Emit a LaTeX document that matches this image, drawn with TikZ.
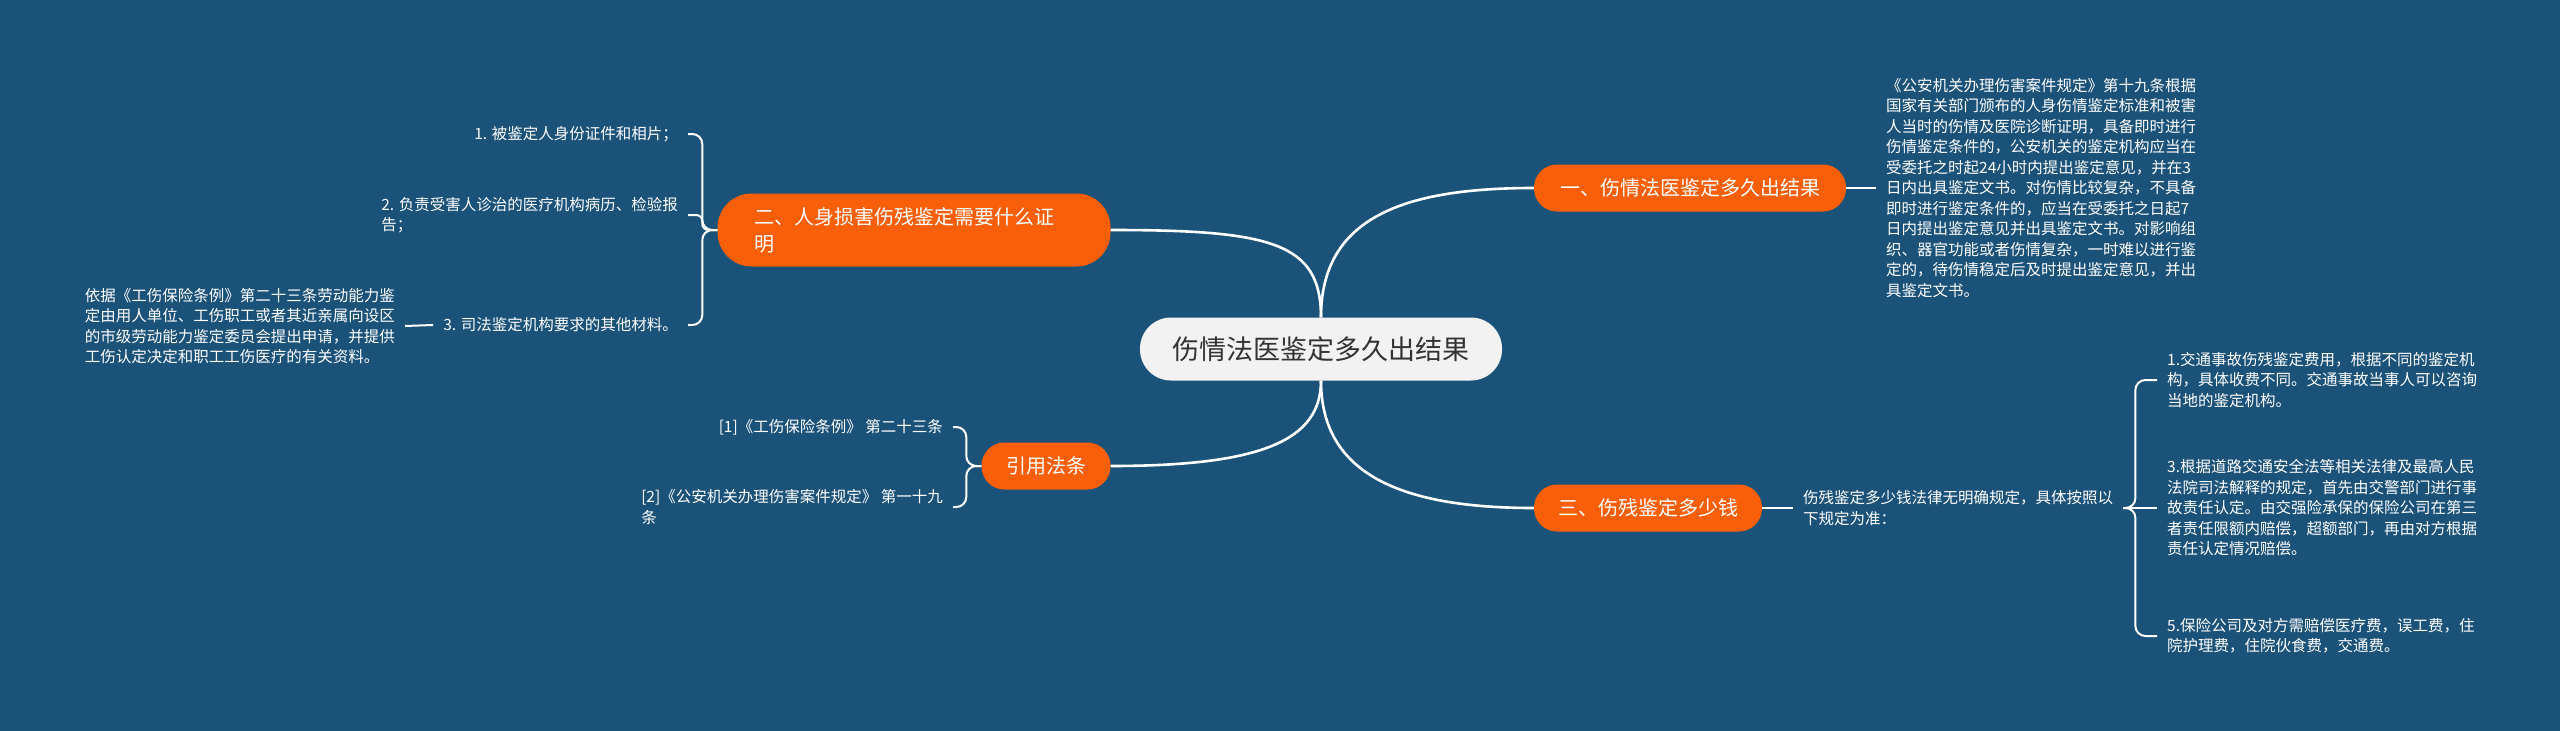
\documentclass[tikz,border=0pt]{standalone}
\usepackage{fontspec}
\setmainfont{Noto Sans CJK SC}
\usetikzlibrary{calc}

\definecolor{bgblue}{HTML}{1B5279}
\definecolor{topicorange}{HTML}{F95E08}
\definecolor{rootfill}{HTML}{F2F2F2}
\definecolor{roottext}{HTML}{333333}

\begin{document}
\begin{tikzpicture}[
    x=1pt, y=-1pt,
    root/.style   = {fill=rootfill, text=roottext, font=\fontsize{27}{32}\selectfont,
                     minimum width=362pt, minimum height=63pt, rounded corners=31pt},
    topic/.style  = {fill=topicorange, text=white, font=\fontsize{20}{27}\selectfont,
                     minimum height=47pt, rounded corners=23pt},
    leaf/.style   = {text=white, font=\fontsize{15.5}{20.5}\selectfont, align=left,
                     inner xsep=10pt, inner ysep=2pt},
    branch/.style = {draw=white, line width=2.6pt},
    twig/.style   = {draw=white, line width=2pt, rounded corners=10pt}
  ]

  \useasboundingbox[fill=bgblue] (0,0) rectangle (2560,731);

  % --- root and main topics ---
  \node[root] (C) at (1321,349) {伤情法医鉴定多久出结果};
  \node[topic, minimum width=312pt] (A) at (1690,188) {一、伤情法医鉴定多久出结果};
  \node[topic, minimum width=393pt, minimum height=73pt, rounded corners=34pt,
        text width=320pt, align=left]
       (B) at (914,230) {二、人身损害伤残鉴定需要什么证\\明};
  \node[topic, minimum width=129pt] (Cite) at (1046,466) {引用法条};
  \node[topic, minimum width=228pt] (D) at (1648,508) {三、伤残鉴定多少钱};

  % --- root to topics ---
  \draw[branch] (C.north) .. controls +(0,-100) and +(-130,0) .. (A.west);
  \draw[branch] (C.north) .. controls +(0,-75) and +(160,0) .. (B.east);
  \draw[branch] (C.south) .. controls +(0,60) and +(150,0) .. (Cite.east);
  \draw[branch] (C.south) .. controls +(0,95) and +(-130,0) .. (D.west);

  % --- topic one ---
  \node[leaf, anchor=west] (A1) at (1876,188)
       {《公安机关办理伤害案件规定》第十九条根据\\国家有关部门颁布的人身伤情鉴定标准和被害\\人当时的伤情及医院诊断证明，具备即时进行\\伤情鉴定条件的，公安机关的鉴定机构应当在\\受委托之时起24小时内提出鉴定意见，并在3\\日内出具鉴定文书。对伤情比较复杂，不具备\\即时进行鉴定条件的，应当在受委托之日起7\\日内提出鉴定意见并出具鉴定文书。对影响组\\织、器官功能或者伤情复杂，一时难以进行鉴\\定的，待伤情稳定后及时提出鉴定意见，并出\\具鉴定文书。};
  \draw[twig] (A.east) -- (A1.west);

  % --- topic two ---
  \node[leaf, anchor=east] (B1) at (688,134) {1. 被鉴定人身份证件和相片；};
  \node[leaf, anchor=east] (B2) at (688,215) {2. 负责受害人诊治的医疗机构病历、检验报\\告；};
  \node[leaf, anchor=east] (B3) at (688,325) {3. 司法鉴定机构要求的其他材料。};
  \node[leaf, anchor=east] (B3a) at (405,326)
       {依据《工伤保险条例》第二十三条劳动能力鉴\\定由用人单位、工伤职工或者其近亲属向设区\\的市级劳动能力鉴定委员会提出申请，并提供\\工伤认定决定和职工工伤医疗的有关资料。};
  \coordinate (Bj) at ($(B.west)+(-15,0)$);
  \draw[twig] (B.west) -- (Bj) |- (B1.east);
  \draw[twig, rounded corners=6pt] (B.west) -- (Bj) |- (B2.east);
  \draw[twig] (B.west) -- (Bj) |- (B3.east);
  \draw[twig] (B3.west) -- (B3a.east);

  % --- cited articles ---
  \node[leaf, anchor=east] (Cite1) at (953,427) {[1]《工伤保险条例》 第二十三条};
  \node[leaf, anchor=east] (Cite2) at (953,507) {[2]《公安机关办理伤害案件规定》 第一十九\\条};
  \coordinate (Cj) at ($(Cite.west)+(-15,0)$);
  \draw[twig] (Cite.west) -- (Cj) |- (Cite1.east);
  \draw[twig] (Cite.west) -- (Cj) |- (Cite2.east);

  % --- topic three ---
  \node[leaf, anchor=west] (D1) at (1793,508) {伤残鉴定多少钱法律无明确规定，具体按照以\\下规定为准：};
  \draw[twig] (D.east) -- (D1.west);
  \node[leaf, anchor=west] (D2) at (2157,380)
       {1.交通事故伤残鉴定费用，根据不同的鉴定机\\构，具体收费不同。交通事故当事人可以咨询\\当地的鉴定机构。};
  \node[leaf, anchor=west] (D3) at (2157,508)
       {3.根据道路交通安全法等相关法律及最高人民\\法院司法解释的规定，首先由交警部门进行事\\故责任认定。由交强险承保的保险公司在第三\\者责任限额内赔偿，超额部门，再由对方根据\\责任认定情况赔偿。};
  \node[leaf, anchor=west] (D4) at (2157,636)
       {5.保险公司及对方需赔偿医疗费，误工费，住\\院护理费，住院伙食费，交通费。};
  \coordinate (Dj) at ($(D1.east)+(12,0)$);
  \draw[twig] (D1.east) -- (Dj) |- (D2.west);
  \draw[twig] (D1.east) -- (D3.west);
  \draw[twig] (D1.east) -- (Dj) |- (D4.west);

\end{tikzpicture}
\end{document}
